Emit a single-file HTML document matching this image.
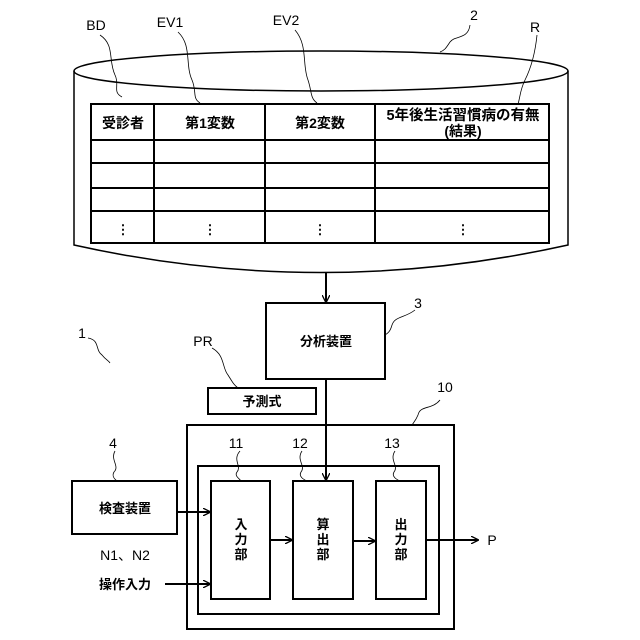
<!DOCTYPE html>
<html><head><meta charset="utf-8"><style>
html,body{margin:0;padding:0;background:#fff}
svg{display:block}
text{font-family:"Liberation Sans","Noto Sans CJK JP",sans-serif;font-size:13px;fill:#000;font-weight:bold}
.h{font-size:14px}
.n{font-weight:normal;font-size:14px}
</style></head><body>
<svg width="640" height="640" viewBox="0 0 640 640" xmlns="http://www.w3.org/2000/svg">
<defs><marker id="a" viewBox="0 0 10 10" refX="9" refY="5" markerWidth="8" markerHeight="8" orient="auto" markerUnits="userSpaceOnUse"><path d="M0,0 L10,5 L0,10" fill="none" stroke="#000" stroke-width="1.6"/></marker></defs>
<g fill="none" stroke="#000" stroke-width="1.5">
<ellipse cx="321" cy="71" rx="247" ry="20"/>
<path d="M74,71 V245 Q321,300 568,245 V71"/>
<rect x="91" y="104" width="458" height="139" stroke-width="2"/>
<path d="M91,140H549M91,163H549M91,188H549M91,211H549M154,104V243M265,104V243M375,104V243" stroke-width="2"/>
<path d="M326,272V302" marker-end="url(#a)" stroke-width="2"/>
<rect x="266" y="303" width="119" height="76" stroke-width="2"/>
<rect x="208" y="388" width="108" height="26" stroke-width="2"/>
<path d="M326,379V480" marker-end="url(#a)" stroke-width="2"/>
<rect x="187" y="425" width="267" height="204" stroke-width="2"/>
<rect x="198" y="466" width="241" height="148" stroke-width="2"/>
<rect x="211" y="481" width="59" height="118" stroke-width="2"/>
<rect x="293" y="481" width="60" height="118" stroke-width="2"/>
<rect x="376" y="481" width="50" height="118" stroke-width="2"/>
<rect x="72" y="481" width="105" height="53" stroke-width="2"/>
<path d="M177,512H210" marker-end="url(#a)" stroke-width="2"/>
<path d="M165,584H210" marker-end="url(#a)" stroke-width="2"/>
<path d="M270,540H292" marker-end="url(#a)" stroke-width="2"/>
<path d="M353,541H375" marker-end="url(#a)" stroke-width="2"/>
<path d="M426,540H478" marker-end="url(#a)" stroke-width="2"/>
<g stroke-width="0.8">
<path d="M100,35 C115,45 108,60 115,75 C120,85 112,92 122,97"/>
<path d="M178,32 C192,45 185,65 192,80 C197,92 192,98 200,103"/>
<path d="M295,30 C308,45 302,65 308,80 C312,92 310,98 317,103"/>
<path d="M470,25 C468,40 455,35 450,42 C446,48 445,50 440,52"/>
<path d="M537,35 C535,55 530,70 525,80 C520,90 520,98 518,104"/>
<path d="M415,310 C405,318 395,316 392,325 C390,332 388,333 385,335"/>
<path d="M88,338 C100,340 95,350 102,355 C106,360 108,360 110,363"/>
<path d="M212,348 C225,355 222,368 228,375 C233,383 234,385 238,388"/>
<path d="M440,400 C432,410 420,405 418,415 C416,420 414,422 412,425"/>
<path d="M240,451 C232,460 242,466 237,472 C234,476 240,479 241,481"/>
<path d="M302,451 C296,460 306,466 301,472 C298,477 305,480 307,481"/>
<path d="M395,451 C389,460 399,466 394,472 C391,477 398,480 400,481"/>
<path d="M115,451 C110,460 120,466 114,472 C111,477 116,480 117,481"/>
</g>
</g>
<g text-anchor="middle">
<text class="n" x="96" y="30">BD</text>
<text class="n" x="170" y="27">EV1</text>
<text class="n" x="286" y="25">EV2</text>
<text class="n" x="474" y="20">2</text>
<text class="n" x="535" y="32">R</text>
<text class="h" x="123" y="128">受診者</text>
<text class="h" x="210" y="128">第1変数</text>
<text class="h" x="320" y="128">第2変数</text>
<text class="h" x="463" y="120" style="font-size:14.5px">5年後生活習慣病の有無</text>
<text class="h" x="463" y="136">(結果)</text>
<g font-weight="bold" font-size="16"><text x="123" y="234">⋮</text><text x="210" y="234">⋮</text><text x="320" y="234">⋮</text><text x="463" y="234">⋮</text></g>
<text x="326" y="346">分析装置</text>
<text class="n" x="418" y="308">3</text>
<text class="n" x="82" y="338">1</text>
<text class="n" x="203" y="346">PR</text>
<text x="262" y="406">予測式</text>
<text class="n" x="445" y="392">10</text>
<text class="n" x="236" y="448">11</text>
<text class="n" x="300" y="448">12</text>
<text class="n" x="392" y="448">13</text>
<text class="n" x="113" y="448">4</text>
<text x="125" y="513">検査装置</text>
<text class="n" x="125" y="560">N1、N2</text>
<text x="125" y="589">操作入力</text>
<text x="241" y="529">入</text><text x="241" y="544">力</text><text x="241" y="559">部</text>
<text x="323" y="529">算</text><text x="323" y="544">出</text><text x="323" y="559">部</text>
<text x="401" y="529">出</text><text x="401" y="544">力</text><text x="401" y="559">部</text>
<text class="n" x="492" y="545">P</text>
</g>
</svg>
</body></html>
